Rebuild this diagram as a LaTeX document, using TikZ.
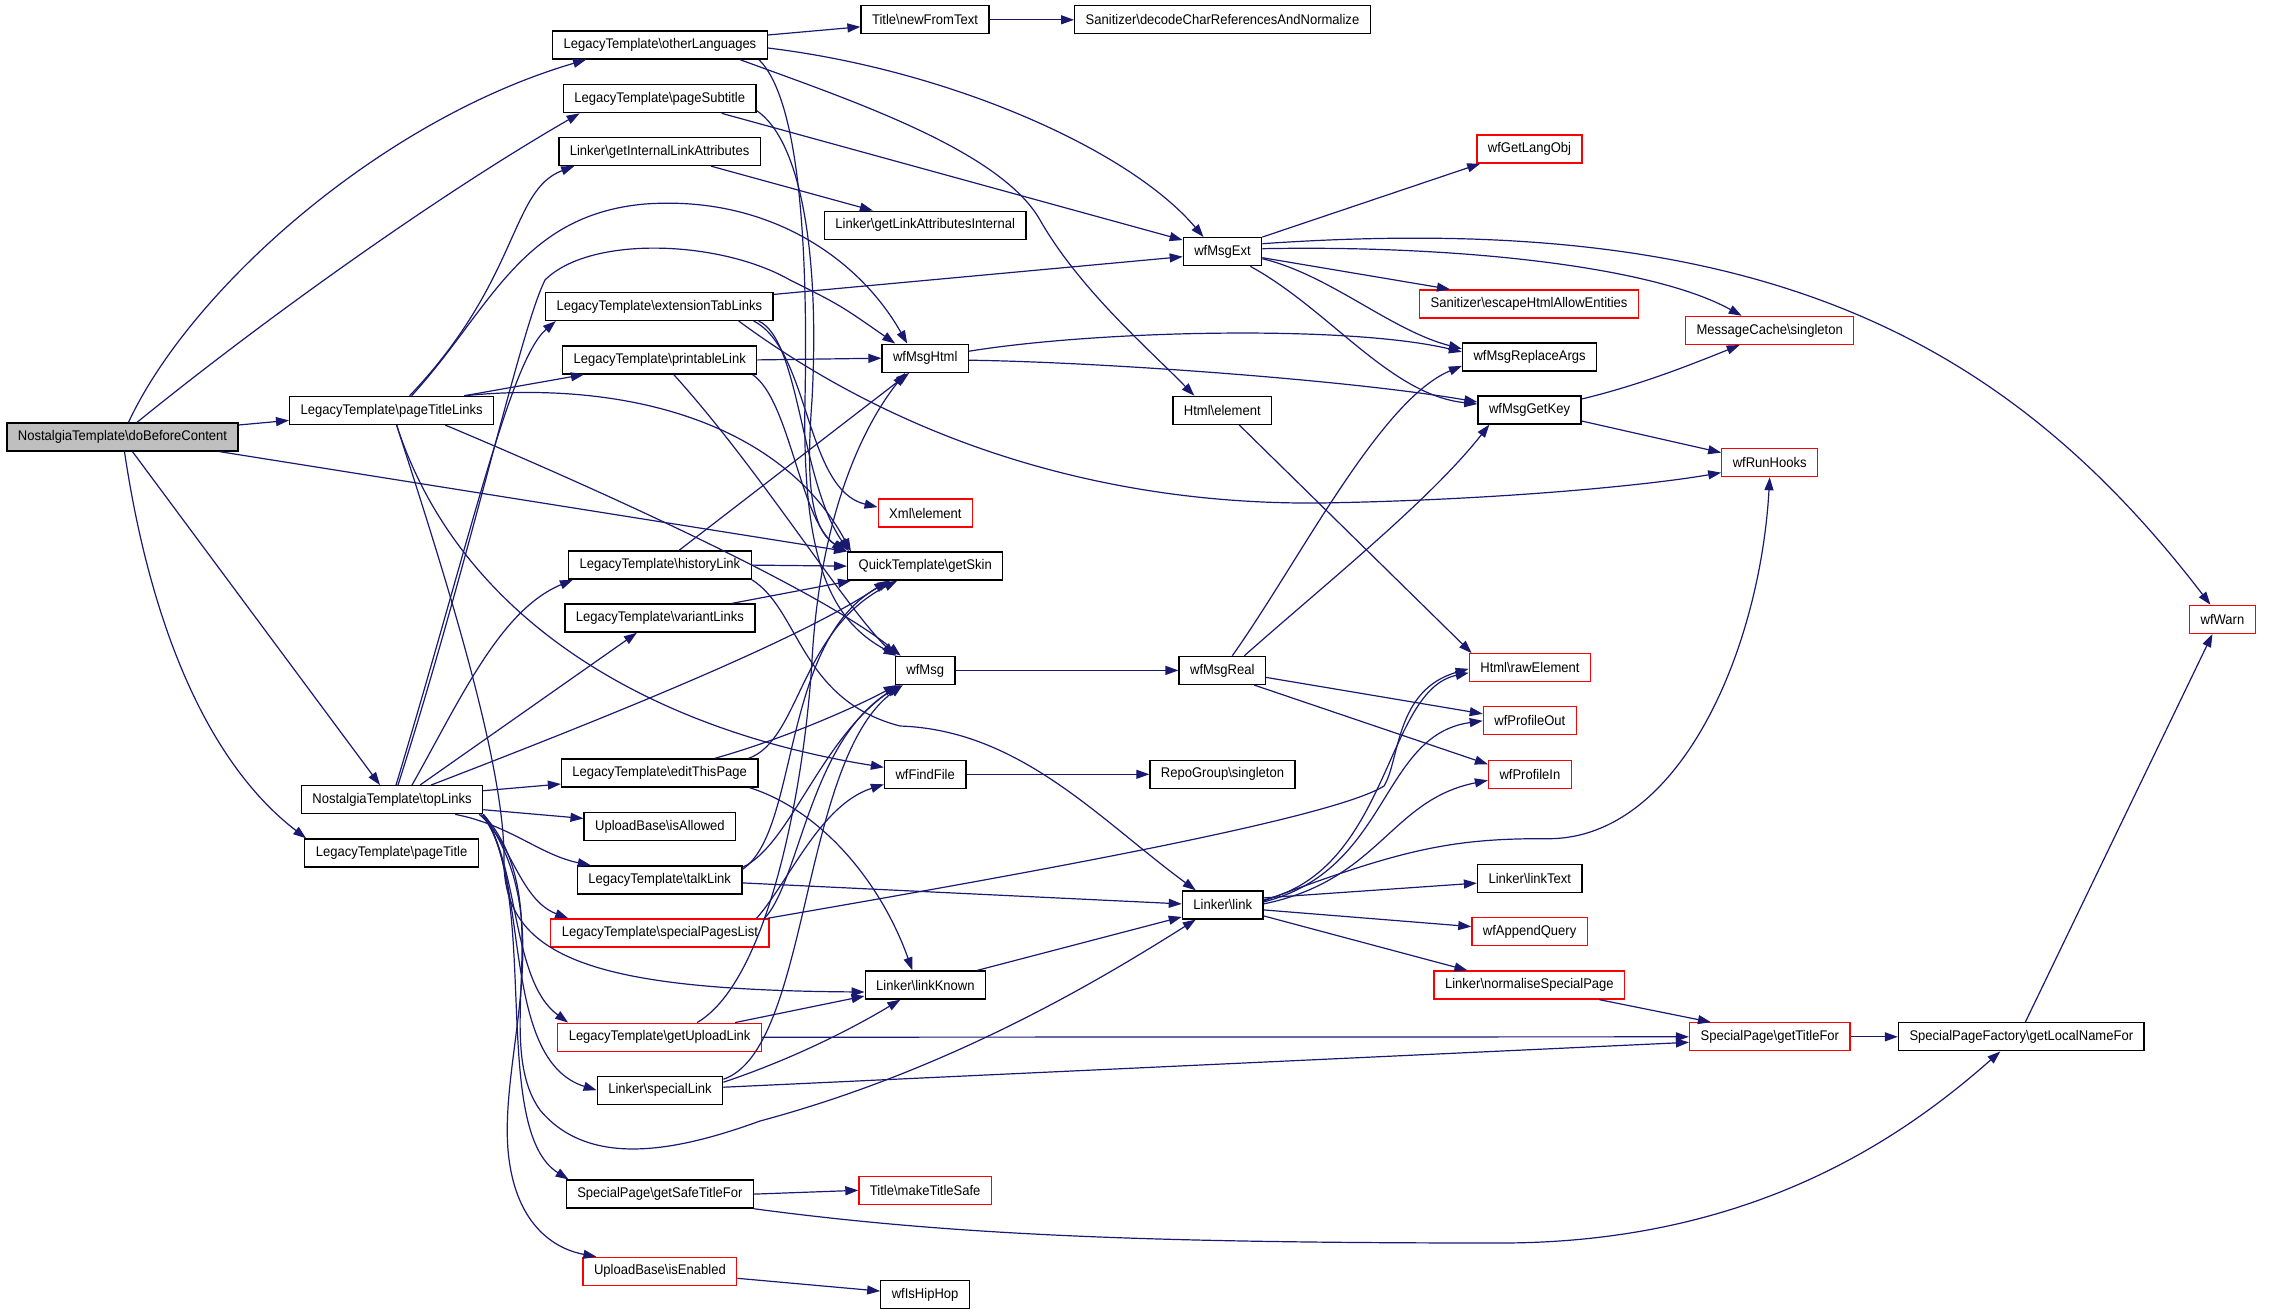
\documentclass[tikz,border=0pt]{standalone}
\usepackage{fontspec}
\setmainfont{Liberation Sans}[FakeStretch=0.93]
\usetikzlibrary{arrows.meta}
\definecolor{edgeblue}{HTML}{191970}
\definecolor{boxred}{HTML}{FF0000}
\definecolor{boxgray}{HTML}{BFBFBF}

\begin{document}
\begin{tikzpicture}[x=1pt,y=-1pt,
  fn/.style={draw=black,line width=1.3pt,rectangle,minimum height=28pt,inner xsep=11pt,inner ysep=0pt,fill=white,font=\fontsize{14}{16}\selectfont},
  fnred/.style={fn,draw=boxred},
  fnmain/.style={fn,fill=boxgray},
  call/.style={draw=edgeblue,line width=1.2pt,-{Triangle[length=13pt,width=9pt]}}]
\useasboundingbox (0,0) rectangle (2277,1315);

\node [fnmain] (doBefore) at (122.5,437) {NostalgiaTemplate\textbackslash doBeforeContent};
\node [fn] (titleLinks) at (391.6,410.4) {LegacyTemplate\textbackslash pageTitleLinks};
\node [fn] (topLinks) at (392,799.7) {NostalgiaTemplate\textbackslash topLinks};
\node [fn] (pageTitle) at (391.6,853) {LegacyTemplate\textbackslash pageTitle};

\node [fn] (otherLang) at (660,45) {LegacyTemplate\textbackslash otherLanguages};
\node [fn] (subtitle) at (659.7,98.7) {LegacyTemplate\textbackslash pageSubtitle};
\node [fn] (intLinkAttr) at (659.6,151.5) {Linker\textbackslash getInternalLinkAttributes};
\node [fn] (extTabs) at (659.3,306.4) {LegacyTemplate\textbackslash extensionTabLinks};
\node [fn] (printLink) at (659.7,359.9) {LegacyTemplate\textbackslash printableLink};
\node [fn] (histLink) at (659.9,565.1) {LegacyTemplate\textbackslash historyLink};
\node [fn] (varLinks) at (659.9,618.1) {LegacyTemplate\textbackslash variantLinks};
\node [fn] (editPage) at (659.7,773) {LegacyTemplate\textbackslash editThisPage};
\node [fn] (isAllowed) at (659.9,826.4) {UploadBase\textbackslash isAllowed};
\node [fn] (talkLink) at (659.7,879.9) {LegacyTemplate\textbackslash talkLink};
\node [fnred] (spList) at (659.9,932.9) {LegacyTemplate\textbackslash specialPagesList};
\node [fnred] (uploadLink) at (659.6,1037.2) {LegacyTemplate\textbackslash getUploadLink};
\node [fn] (specLink) at (660,1090.2) {Linker\textbackslash specialLink};
\node [fn] (safeTitle) at (659.9,1194.1) {SpecialPage\textbackslash getSafeTitleFor};
\node [fnred] (isEnabled) at (659.9,1271.3) {UploadBase\textbackslash isEnabled};

\node [fn] (newFromText) at (925,19.8) {Title\textbackslash newFromText};
\node [fn] (linkAttrInt) at (925.2,225.2) {Linker\textbackslash getLinkAttributesInternal};
\node [fn] (msgHtml) at (925.2,358.2) {wfMsgHtml};
\node [fnred] (xmlElem) at (925.4,513.1) {Xml\textbackslash element};
\node [fn] (getSkin) at (925.2,566.1) {QuickTemplate\textbackslash getSkin};
\node [fn] (msg) at (925.2,670.4) {wfMsg};
\node [fn] (findFile) at (925.2,774.3) {wfFindFile};
\node [fn] (linkKnown) at (925.4,985) {Linker\textbackslash linkKnown};
\node [fnred] (makeSafe) at (925.2,1190.3) {Title\textbackslash makeTitleSafe};
\node [fn] (hipHop) at (925.1,1294.6) {wfIsHipHop};

\node [fn] (decodeChar) at (1222.5,19.8) {Sanitizer\textbackslash decodeCharReferencesAndNormalize};
\node [fn] (msgExt) at (1222.5,251.7) {wfMsgExt};
\node [fn] (htmlElem) at (1222.3,410.4) {Html\textbackslash element};
\node [fn] (msgReal) at (1222.3,670.4) {wfMsgReal};
\node [fn] (repoSingle) at (1222.5,774.3) {RepoGroup\textbackslash singleton};
\node [fn] (link) at (1222.7,904.9) {Linker\textbackslash link};

\node [fnred] (langObj) at (1529.5,149) {wfGetLangObj};
\node [fnred] (escHtml) at (1529,303.9) {Sanitizer\textbackslash escapeHtmlAllowEntities};
\node [fn] (replaceArgs) at (1529.6,356.9) {wfMsgReplaceArgs};
\node [fn] (getKey) at (1529.5,410) {wfMsgGetKey};
\node [fnred] (rawElem) at (1529.9,667.8) {Html\textbackslash rawElement};
\node [fnred] (profOut) at (1529.8,720.8) {wfProfileOut};
\node [fnred] (profIn) at (1529.9,774.3) {wfProfileIn};
\node [fn] (linkText) at (1529.8,878.6) {Linker\textbackslash linkText};
\node [fnred] (appendQuery) at (1529.6,931.6) {wfAppendQuery};
\node [fnred] (normSpecial) at (1529.4,985) {Linker\textbackslash normaliseSpecialPage};

\node [fnred] (msgCache) at (1769.7,330.4) {MessageCache\textbackslash singleton};
\node [fnred] (runHooks) at (1769.7,462.6) {wfRunHooks};
\node [fnred] (titleFor) at (1769.8,1036.8) {SpecialPage\textbackslash getTitleFor};
\node [fn] (localName) at (2021.3,1036.8) {SpecialPageFactory\textbackslash getLocalNameFor};
\node [fnred] (warn) at (2222.4,619.4) {wfWarn};

\draw [call] ([xshift=6pt]doBefore.north) .. controls (190,290) and (380,120) .. ([xshift=34pt]otherLang.south west);
\draw [call] ([xshift=14.5pt]doBefore.north) .. controls (263,320) and (438,195) .. ([xshift=17pt]subtitle.south west);
\draw [call] ([yshift=12pt]doBefore.east) -- ([yshift=-10pt]titleLinks.west);
\draw [call] ([xshift=-19pt]doBefore.south east) -- (getSkin.north west);
\draw [call] ([xshift=10pt]doBefore.south) -- ([xshift=-12pt]topLinks.north);
\draw [call] ([xshift=2pt]doBefore.south) .. controls (149,617) and (204,760) .. ([xshift=2pt]pageTitle.north west);

\draw [call] ([xshift=18pt]titleLinks.north) .. controls (520,280) and (510,190) .. ([xshift=16pt]intLinkAttr.south west);
\draw [call] ([xshift=20pt]titleLinks.north) .. controls (490,310) and (520,215) .. (645,204) .. controls (770,195) and (860,260) .. ([xshift=-18pt]msgHtml.north);
\draw [call] ([xshift=-30pt]titleLinks.north east) -- ([xshift=22pt]printLink.south west);
\draw [call] ([xshift=-30pt]titleLinks.north east) .. controls (620,380) and (780,420) .. ([xshift=4pt]getSkin.north west);
\draw [call] ([xshift=-49pt]titleLinks.south east) .. controls (600,490) and (820,590) .. ([xshift=6pt]msg.north west);
\draw [call] ([xshift=5pt]titleLinks.south) .. controls (460,620) and (650,730) .. ([yshift=7pt]findFile.west);
\draw [call] ([xshift=5pt]titleLinks.south) .. controls (440,560) and (505,760) .. (504,860) .. controls (503,960) and (600,990) .. ([yshift=-7pt]linkKnown.west);

\draw [call] ([yshift=10pt]otherLang.east) -- ([yshift=-7pt]newFromText.west);
\draw [call] ([yshift=-3pt]otherLang.east) .. controls (950,70) and (1130,150) .. ([xshift=-19pt]msgExt.north);
\draw [call] ([xshift=80pt]otherLang.south) .. controls (850,100) and (1000,150) .. (1040,220) .. controls (1080,290) and (1150,350) .. ([xshift=22pt]htmlElem.north west);
\draw [call] ([xshift=-9pt]otherLang.south east) .. controls (800,100) and (808,250) .. (805,400) .. controls (802,560) and (830,620) .. ([xshift=2pt]msg.north west);

\draw [call] ([xshift=-35pt]subtitle.south east) -- ([yshift=-3pt]msgExt.north west);
\draw [call] ([yshift=-12pt]subtitle.east) .. controls (800,140) and (820,250) .. (812,400) .. controls (806,480) and (810,530) .. (getSkin.north west);

\draw [call] ([xshift=-50pt]intLinkAttr.south east) -- ([xshift=49pt]linkAttrInt.north west);

\draw [call] ([yshift=12pt]extTabs.east) -- ([yshift=-5pt]msgExt.west);
\draw [call] ([xshift=-20pt]extTabs.south east) .. controls (810,350) and (805,490) .. ([yshift=6pt]xmlElem.west);
\draw [call] ([xshift=-15pt]extTabs.south east) .. controls (800,340) and (800,480) .. ([xshift=2pt]getSkin.north west);
\draw [call] ([xshift=-35pt]extTabs.south east) .. controls (900,440) and (1100,505) .. (1320,503) .. controls (1500,500) and (1650,485) .. ([yshift=-10pt]runHooks.west);

\draw [call] (printLink.east) -- (msgHtml.west);
\draw [call] ([xshift=-5pt]printLink.south east) .. controls (790,400) and (800,520) .. ([xshift=-2pt]getSkin.north west);
\draw [call] ([xshift=14pt]printLink.south) .. controls (760,470) and (840,600) .. (msg.north west);

\draw [call] (histLink.east) -- (getSkin.west);
\draw [call] ([xshift=19pt]histLink.north) -- ([xshift=-16pt]msgHtml.south);
\draw [call] (histLink.south east) .. controls (800,610) and (800,700) .. (900,726) .. controls (1020,730) and (1100,820) .. ([xshift=14pt]link.north west);

\draw [call] ([xshift=-24pt]varLinks.north east) -- ([xshift=4pt]getSkin.south west);

\draw [call] ([xshift=4pt]topLinks.north) .. controls (470,540) and (510,360) .. ([xshift=11pt]extTabs.south west);
\draw [call] ([xshift=6pt]topLinks.north) .. controls (470,560) and (520,330) .. (545,280) .. controls (590,235) and (720,240) .. (790,280) .. controls (840,305) .. ([xshift=-30pt]msgHtml.north);
\draw [call] ([xshift=20pt]topLinks.north) .. controls (460,700) and (500,610) .. ([xshift=5pt]histLink.south west);
\draw [call] ([xshift=28pt]topLinks.north) -- ([xshift=-23pt]varLinks.south);
\draw [call] ([xshift=39pt]topLinks.north) .. controls (600,720) and (800,640) .. ([xshift=-38pt]getSkin.south);
\draw [call] ([yshift=9pt]topLinks.east) -- ([yshift=-11pt]editPage.west);
\draw [call] ([yshift=-10pt]topLinks.east) -- ([yshift=8pt]isAllowed.west);
\draw [call] ([xshift=-28pt]topLinks.south east) .. controls (510,825) and (540,855) .. ([xshift=14pt]talkLink.north west);
\draw [call] ([xshift=-4pt]topLinks.south east) .. controls (510,840) and (520,900) .. ([xshift=18pt]spList.north west);
\draw [call] ([xshift=-2pt]topLinks.south east) .. controls (520,860) and (510,980) .. ([xshift=11pt]uploadLink.north west);
\draw [call] (topLinks.south east) .. controls (530,880) and (500,1060) .. (specLink.west);
\draw [call] (topLinks.south east) .. controls (540,900) and (490,1130) .. ([xshift=3pt]safeTitle.north west);
\draw [call] (topLinks.south east) .. controls (560,920) and (500,1050) .. (508,1150) .. controls (515,1230) and (560,1250) .. ([xshift=14pt]isEnabled.north west);
\draw [call] (topLinks.south east) .. controls (560,900) and (490,1040) .. (540,1110) .. controls (590,1170) and (680,1150) .. (760,1121) .. controls (950,1070) and (1100,980) .. ([xshift=14pt]link.south west);

\draw [call] ([xshift=55pt]editPage.north) .. controls (780,740) and (850,710) .. ([xshift=2pt]msg.south west);
\draw [call] ([xshift=-10pt]editPage.north east) .. controls (800,740) and (800,630) .. ([xshift=-28pt]getSkin.south);
\draw [call] ([xshift=-9pt]editPage.south east) .. controls (820,810) and (880,880) .. ([xshift=-13pt]linkKnown.north);

\draw [call] ([yshift=-3pt]talkLink.east) -- ([yshift=1pt]link.west);
\draw [call] ([yshift=-2pt]talkLink.north east) .. controls (790,845) and (820,740) .. ([xshift=4pt]msg.south west);
\draw [call] ([yshift=-4pt]talkLink.north east) .. controls (800,830) and (780,640) .. ([xshift=-35pt]getSkin.south);

\draw [call] ([xshift=-5pt]spList.north east) .. controls (800,880) and (810,740) .. ([xshift=6pt]msg.south west);
\draw [call] ([xshift=-13pt]spList.north east) .. controls (790,880) and (820,805) .. ([yshift=-10pt]findFile.west);
\draw [call] ([xshift=-2pt]spList.north east) .. controls (1000,878) and (1330,820) .. (1384,786) .. controls (1400,760) and (1395,690) .. ([yshift=-1pt]rawElem.west);

\draw [call] (uploadLink.east) -- (titleFor.west);
\draw [call] ([xshift=-27pt]uploadLink.north east) -- ([yshift=-11pt]linkKnown.west);
\draw [call] ([xshift=-65pt]uploadLink.north east) .. controls (770,980) and (805,780) .. (812,660) .. controls (820,520) and (860,430) .. ([xshift=-20pt]msgHtml.south);

\draw [call] ([yshift=3pt]specLink.east) -- ([yshift=-5.5pt]titleFor.west);
\draw [call] ([yshift=8pt]specLink.east) .. controls (790,1060) and (850,1030) .. ([xshift=-25pt]linkKnown.south);
\draw [call] ([yshift=11pt]specLink.east) .. controls (810,1050) and (800,760) .. ([xshift=8pt]msg.south west);

\draw [call] (safeTitle.east) -- (makeSafe.west);
\draw [call] (safeTitle.south east) .. controls (950,1235) and (1150,1243) .. (1500,1243) .. controls (1750,1243) and (1900,1140) .. ([xshift=-21pt]localName.south);

\draw [call] ([yshift=-7pt]isEnabled.east) -- ([yshift=3.5pt]hipHop.west);

\draw [call] (newFromText) -- (decodeChar);
\draw [call] ([yshift=7pt]msgHtml.east) .. controls (1100,330) and (1350,325) .. ([yshift=5pt]replaceArgs.west);
\draw [call] ([yshift=-2pt]msgHtml.east) .. controls (1100,362) and (1350,380) .. ([yshift=8pt]getKey.west);
\draw [call] (msg) -- (msgReal);
\draw [call] (findFile) -- (repoSingle);
\draw [call] ([xshift=-9pt]linkKnown.north east) -- ([yshift=-12pt]link.west);

\draw [call] (msgExt.north east) -- ([xshift=4pt]langObj.south west);
\draw [call] ([yshift=8pt]msgExt.east) .. controls (1750,210) and (2000,330) .. ([xshift=-12pt]warn.north);
\draw [call] ([yshift=3pt]msgExt.east) .. controls (1450,245) and (1650,265) .. ([xshift=-28pt]msgCache.north);
\draw [call] ([yshift=-6pt]msgExt.east) -- ([xshift=31pt]escHtml.north west);
\draw [call] ([yshift=-7pt]msgExt.east) .. controls (1330,275) and (1390,330) .. ([yshift=8pt]replaceArgs.west);
\draw [call] ([xshift=-12pt]msgExt.south east) .. controls (1330,310) and (1390,395) .. ([yshift=6pt]getKey.west);

\draw [call] ([xshift=17pt]htmlElem.south) -- ([xshift=3pt]rawElem.north west);

\draw [call] ([xshift=10pt]msgReal.north) .. controls (1300,560) and (1380,400) .. ([yshift=-9pt]replaceArgs.west);
\draw [call] ([xshift=22pt]msgReal.north) .. controls (1330,580) and (1430,500) .. ([xshift=12pt]getKey.south west);
\draw [call] ([yshift=-7pt]msgReal.east) -- ([yshift=7pt]profOut.west);
\draw [call] ([xshift=-12pt]msgReal.south east) -- ([yshift=10pt]profIn.west);

\draw [call] ([yshift=5pt]link.east) .. controls (1390,870) and (1385,690) .. ([yshift=-5pt]rawElem.west);
\draw [call] ([yshift=3pt]link.east) .. controls (1390,870) and (1380,735) .. (profOut.west);
\draw [call] ([yshift=1pt]link.east) .. controls (1380,880) and (1390,800) .. ([yshift=-6pt]profIn.west);
\draw [call] ([yshift=4pt]link.east) .. controls (1400,850) and (1450,838) .. (1549,838.7) .. controls (1680,838) and (1760,650) .. (runHooks.south);
\draw [call] ([yshift=7pt]link.east) -- ([yshift=-4.5pt]linkText.west);
\draw [call] ([yshift=-5pt]link.east) -- ([yshift=5pt]appendQuery.west);
\draw [call] ([yshift=-11pt]link.east) -- ([xshift=34pt]normSpecial.north west);

\draw [call] ([yshift=11pt]getKey.east) .. controls (1640,385) and (1690,365) .. ([xshift=-30pt]msgCache.south);
\draw [call] ([yshift=-11pt]getKey.east) -- ([yshift=10pt]runHooks.west);

\draw [call] ([xshift=-26pt]normSpecial.south east) -- ([xshift=22pt]titleFor.north west);
\draw [call] (titleFor) -- (localName);
\draw [call] ([xshift=4pt]localName.north) -- ([xshift=-10pt]warn.south);

\end{tikzpicture}
\end{document}
